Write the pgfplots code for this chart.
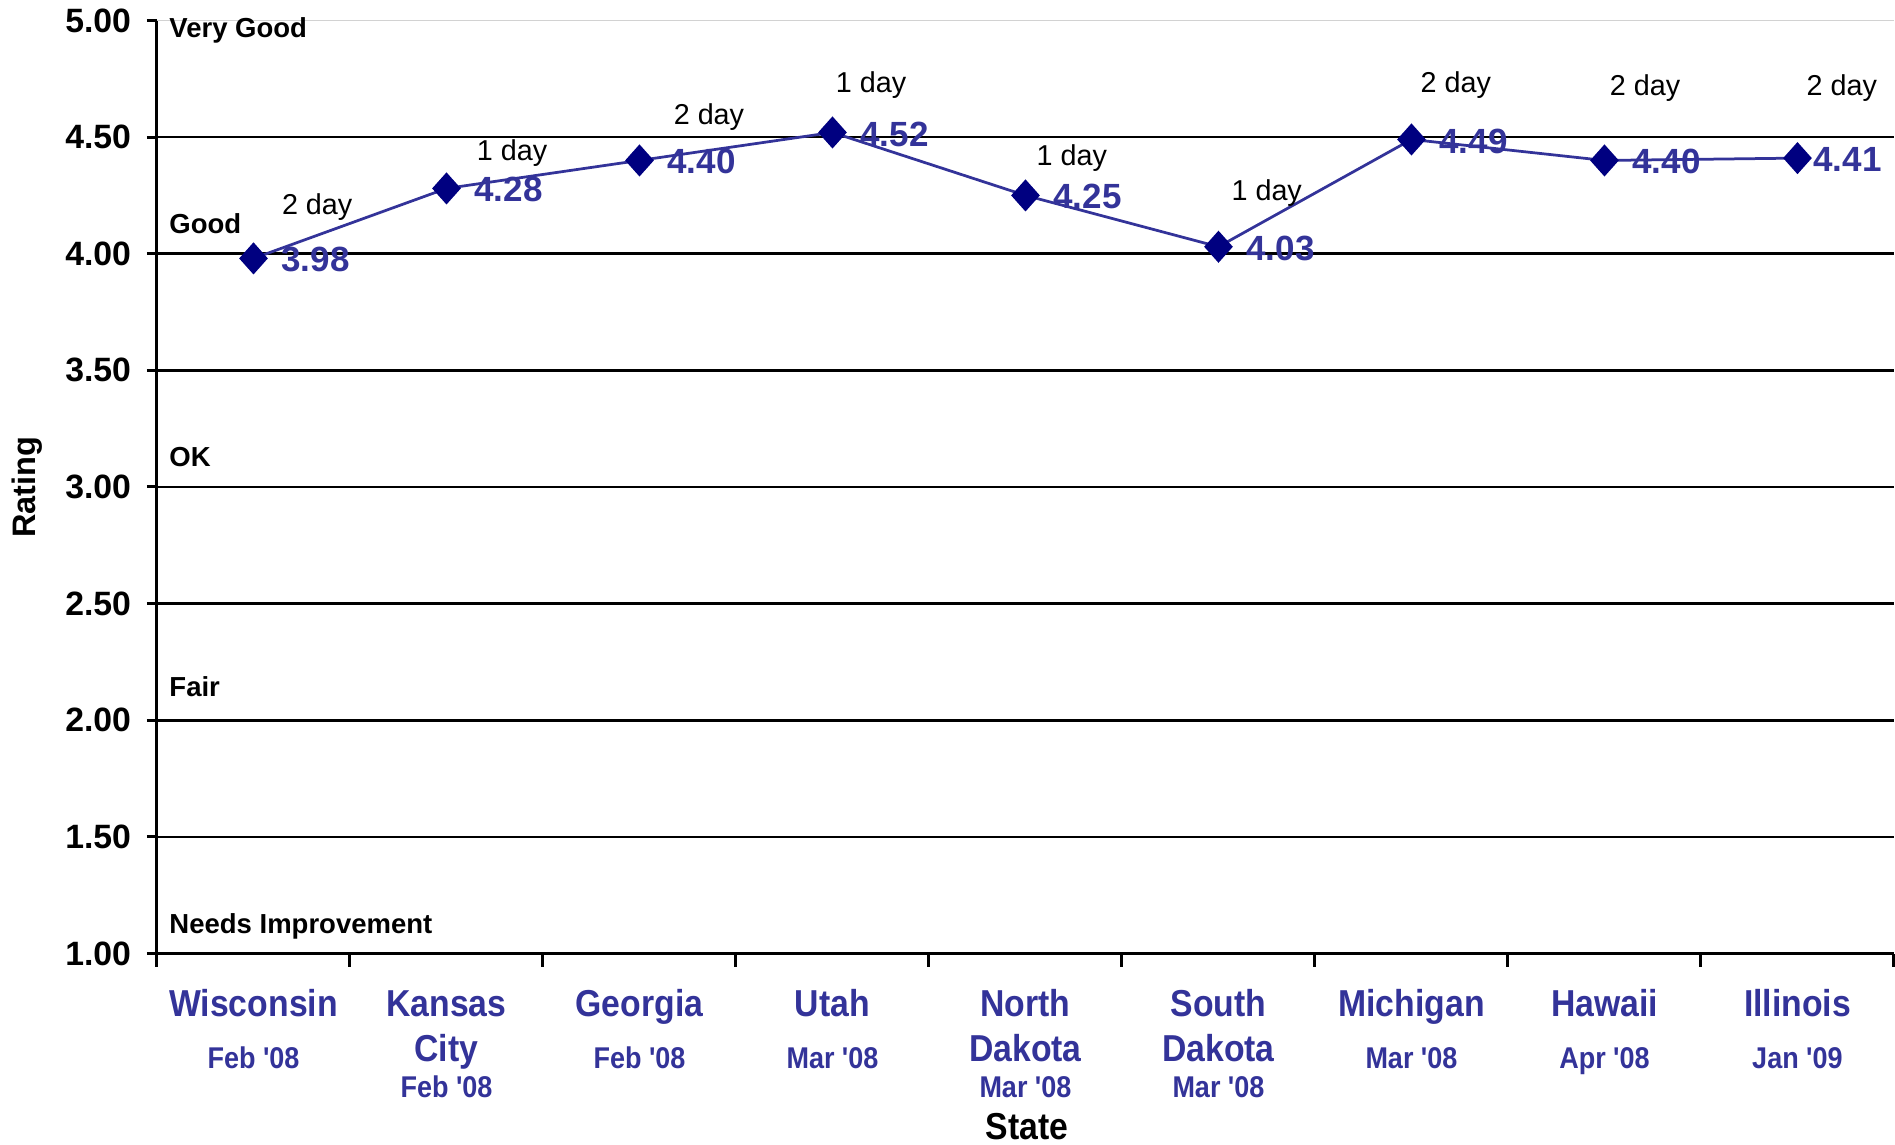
\documentclass[border=0pt]{standalone}
\usepackage{pgfplots}
\pgfplotsset{compat=1.18}
\usepackage{pgfplotstable}
\usepackage{fontspec}
\setmainfont{Liberation Sans}[Ligatures=TeXOff]
\newfontfamily\narrowfont{Liberation Sans}[FakeStretch=0.9, Ligatures=TeXOff]

\definecolor{labelblue}{RGB}{51,51,153}
\definecolor{markernavy}{RGB}{0,0,128}

% rating per site, label offset, and position of the course-length note
\pgfplotstableread[col sep=comma]{
x,y,dx,lx,ly,day
1,3.98,10.6,1.33,4.20,2 day
2,4.28,10.6,2.34,4.43,1 day
3,4.40,10.6,3.36,4.585,2 day
4,4.52,10.6,4.20,4.725,1 day
5,4.25,10.6,5.24,4.41,1 day
6,4.03,10.6,6.25,4.26,1 day
7,4.49,10.6,7.23,4.725,2 day
8,4.40,10.6,8.21,4.71,2 day
9,4.41,5.8,9.23,4.71,2 day
}\ratings

\newcommand{\namefont}{\fontsize{15}{18}\selectfont\narrowfont\bfseries}
\newcommand{\datefont}{\fontsize{12}{14}\selectfont\narrowfont\bfseries}
% one-line and two-line category labels
\newcommand{\catA}[2]{\namefont\begin{tabular}{@{}c@{}}#1\\[2.8pt]{\datefont #2}\end{tabular}}
\newcommand{\catB}[3]{\namefont\begin{tabular}{@{}c@{}}#1\\#2\\[-3.6pt]{\datefont #3}\end{tabular}}

\begin{document}
\begin{tikzpicture}
\begin{axis}[
  scale only axis,
  width=694.8pt, height=373.2pt,
  xmin=0.5, xmax=9.5,
  ymin=1, ymax=5,
  clip=false,
  axis x line=bottom, axis y line=left,
  axis line style={-, line width=1.2pt, black},
  tick align=outside,
  major tick length=4pt,
  minor tick length=5.2pt,
  tick style={black, line width=1.2pt},
  xtick={1,...,9},
  minor xtick={0.5,1.5,...,9.5},
  every major x tick/.append style={draw=none},
  xticklabels={
    {\catA{Wisconsin}{Feb '08}},
    {\catB{Kansas}{City}{Feb '08}},
    {\catA{Georgia}{Feb '08}},
    {\catA{Utah}{Mar '08}},
    {\catB{North}{Dakota}{Mar '08}},
    {\catB{South}{Dakota}{Mar '08}},
    {\catA{Michigan}{Mar '08}},
    {\catA{Hawaii}{Apr '08}},
    {\catA{Illinois}{Jan '09}}},
  xticklabel style={text=labelblue, anchor=north, inner sep=0pt, yshift=-8.2pt},
  ytick={1,1.5,...,4.5},
  extra y ticks={5},
  extra y tick style={major grid style={gray!35, line width=0.6pt}},
  yticklabel={\pgfmathprintnumber[fixed,fixed zerofill,precision=2]{\tick}},
  yticklabel style={font=\fontsize{13.5}{16}\selectfont\bfseries, anchor=east, inner sep=0pt, xshift=-6.2pt},
  /pgf/number format/assume math mode=true,
  ymajorgrids,
  major grid style={black, line width=1pt},
  xlabel={State},
  xlabel style={at={(axis description cs:0.501,-0.185)}, anchor=center,
    font=\fontsize{15}{18}\selectfont\narrowfont\bfseries},
  ylabel={Rating},
  ylabel style={at={(axis description cs:-0.0749,0.5)}, anchor=center,
    font=\fontsize{13}{16}\selectfont\bfseries},
]
% rating bands
\node[anchor=base west, inner sep=0pt, font=\fontsize{11}{13}\selectfont\bfseries] at ([xshift=4.8pt]axis cs:0.5,4.927) {Very Good};
\node[anchor=base west, inner sep=0pt, font=\fontsize{11}{13}\selectfont\bfseries] at ([xshift=4.8pt]axis cs:0.5,4.087) {Good};
\node[anchor=base west, inner sep=0pt, font=\fontsize{11}{13}\selectfont\bfseries] at ([xshift=4.8pt]axis cs:0.5,3.090) {OK};
\node[anchor=base west, inner sep=0pt, font=\fontsize{11}{13}\selectfont\bfseries] at ([xshift=4.8pt]axis cs:0.5,2.103) {Fair};
\node[anchor=base west, inner sep=0pt, font=\fontsize{11}{13}\selectfont\bfseries] at ([xshift=4.8pt]axis cs:0.5,1.085) {Needs Improvement};

% course length notes
\addplot[draw=none, mark=none, nodes near coords, point meta=explicit symbolic,
  every node near coord/.style={anchor=center, inner sep=0pt, black,
    font=\fontsize{11.5}{14}\selectfont}]
  table[x=lx, y=ly, meta=day] {\ratings};

% ratings
\addplot[color=labelblue, line width=1.1pt,
  mark=diamond*, mark size=5.6pt,
  mark options={fill=markernavy, draw=markernavy, xscale=1.19},
  point meta=y,
  visualization depends on={\thisrow{dx} \as \labdx},
  nodes near coords={\pgfmathprintnumber[fixed,fixed zerofill,precision=2]{\pgfplotspointmeta}},
  every node near coord/.style={anchor=west, inner sep=0pt, xshift=\labdx pt, yshift=-0.6pt,
    text=labelblue, font=\fontsize{14}{16}\selectfont\bfseries}]
  table[x=x, y=y] {\ratings};
\end{axis}
\pgfresetboundingbox
\path[use as bounding box] ([shift={(-62.8pt,-76.6pt)}]current axis.south west) rectangle ++(758pt,458pt);
\end{tikzpicture}
\end{document}
